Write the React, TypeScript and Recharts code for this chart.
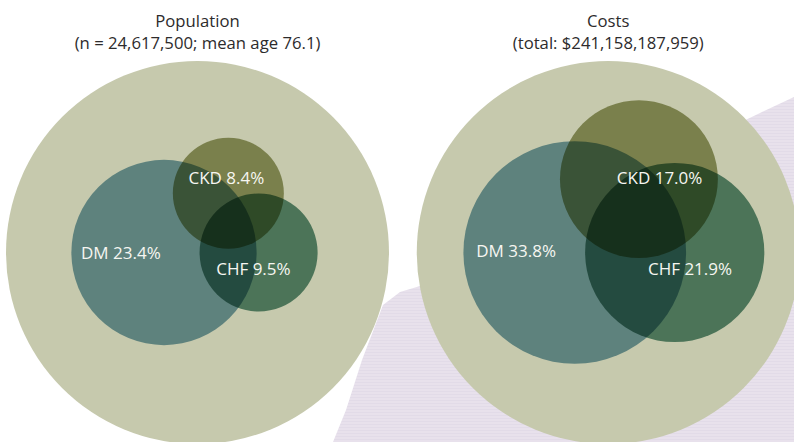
import React from 'react';
import { ScatterChart, Scatter, XAxis, YAxis, ZAxis } from 'recharts';

const W = 794;
const H = 442;

// ---- data ----
const panelTitles = ['Population', 'Costs'];
const panelSubtitles = ['(n = 24,617,500; mean age 76.1)', '(total: $241,158,187,959)'];
const setNames = ['DM', 'CKD', 'CHF'];
const populationShares = [23.4, 8.4, 9.5];
const costShares = [33.8, 17.0, 21.9];
const totalShare = 100;

// ---- Venn layout (units = radius of the 100% circle) ----
const panelOffsetX = [0, 2.145];
const populationCentersX = [-0.175, 0.161, 0.319];
const populationCentersY = [0.0, -0.309, 0.0];
const costCentersX = [-0.175, 0.16, 0.347];
const costCentersY = [0.0, -0.383, 0.0];
const populationLabelX = [-0.4, 0.151, 0.292];
const populationLabelY = [0.0, -0.394, 0.081];
const costLabelX = [-0.481, 0.268, 0.427];
const costLabelY = [-0.008, -0.394, 0.081];
const titleY = -1.209;
const subtitleY = -1.094;

// ---- scale setup ----
const R_PX = 191.5;
const ORIGIN_X = 197.5;
const ORIGIN_Y = 252.5;
const X_DOMAIN = [-ORIGIN_X / R_PX, (W - ORIGIN_X) / R_PX];
const Y_DOMAIN = [-ORIGIN_Y / R_PX, (H - ORIGIN_Y) / R_PX];

// ---- styles ----
const TOTAL_FILL = '#c6c9ad';
const SET_FILLS = ['#79a5b8', '#9da270', '#619382'];
const FONT = '"Open Sans", "Noto Sans", sans-serif';

const allShares = [populationShares, costShares];
const allCentersX = [populationCentersX, costCentersX];
const allCentersY = [populationCentersY, costCentersY];
const allLabelX = [populationLabelX, costLabelX];
const allLabelY = [populationLabelY, costLabelY];

const circles: any[] = [];
panelTitles.forEach((_, p) => {
  circles.push({ x: panelOffsetX[p], y: 0, z: totalShare, setIndex: -1 });
});
panelTitles.forEach((_, p) => {
  setNames.forEach((name, i) => {
    circles.push({
      x: panelOffsetX[p] + allCentersX[p][i],
      y: allCentersY[p][i],
      z: allShares[p][i],
      setIndex: i,
    });
  });
});

const labels: any[] = [];
panelTitles.forEach((title, p) => {
  labels.push({ x: panelOffsetX[p], y: titleY, z: 1, text: title, kind: 'title' });
  labels.push({ x: panelOffsetX[p], y: subtitleY, z: 1, text: panelSubtitles[p], kind: 'title' });
  setNames.forEach((name, i) => {
    labels.push({
      x: panelOffsetX[p] + allLabelX[p][i],
      y: allLabelY[p][i],
      z: 1,
      text: `${name} ${allShares[p][i].toFixed(1)}%`,
      kind: 'set',
    });
  });
});

const CircleShape = (props: any) => {
  const { cx, cy, width, payload } = props;
  const r = width / 2;
  const idx = payload.setIndex;
  const fill = idx < 0 ? TOTAL_FILL : SET_FILLS[idx];
  return (
    <circle
      cx={cx}
      cy={cy}
      r={r}
      fill={fill}
      style={idx < 0 ? undefined : { mixBlendMode: 'multiply' }}
    />
  );
};

const LabelShape = (props: any) => {
  const { cx, cy, payload } = props;
  const isTitle = payload.kind === 'title';
  return (
    <text
      x={cx}
      y={cy}
      textAnchor="middle"
      dominantBaseline="central"
      fontFamily={FONT}
      fontSize={isTitle ? 16.7 : 17}
      fill={isTitle ? '#2d2b2c' : '#f6f6f1'}
    >
      {payload.text}
    </text>
  );
};

export default function App() {
  return (
    <div style={{ position: 'absolute', left: 0, top: 0, width: W, height: H, background: '#ffffff', overflow: 'hidden' }}>
      <svg width={W} height={H} style={{ position: 'absolute', left: 0, top: 0 }}>
        <defs>
          <pattern id="paper" width="40" height="3" patternUnits="userSpaceOnUse">
            <rect width="40" height="3" fill="#e8e1ec" />
            <line x1="0" y1="1.5" x2="40" y2="1.5" stroke="#e0d8e6" strokeWidth="0.7" />
          </pattern>
        </defs>
        <path
          d="M 333 442 L 346 410 L 362 360 L 383 305 L 400 292 L 420 286 L 520 236 L 620 186 L 700 142 L 760 113 L 794 97 L 794 442 Z"
          fill="url(#paper)"
        />
      </svg>
      <div style={{ position: 'absolute', left: 0, top: 0 }}>
        <ScatterChart width={W} height={H} margin={{ top: 0, right: 0, bottom: 0, left: 0 }}>
          <XAxis type="number" dataKey="x" domain={X_DOMAIN} hide allowDataOverflow />
          <YAxis type="number" dataKey="y" domain={Y_DOMAIN} reversed hide allowDataOverflow />
          <ZAxis type="number" dataKey="z" domain={[0, totalShare]} range={[0, Math.PI * R_PX * R_PX]} />
          <Scatter data={circles} shape={CircleShape} isAnimationActive={false} />
          <Scatter data={labels} shape={LabelShape} isAnimationActive={false} />
        </ScatterChart>
      </div>
    </div>
  );
}
